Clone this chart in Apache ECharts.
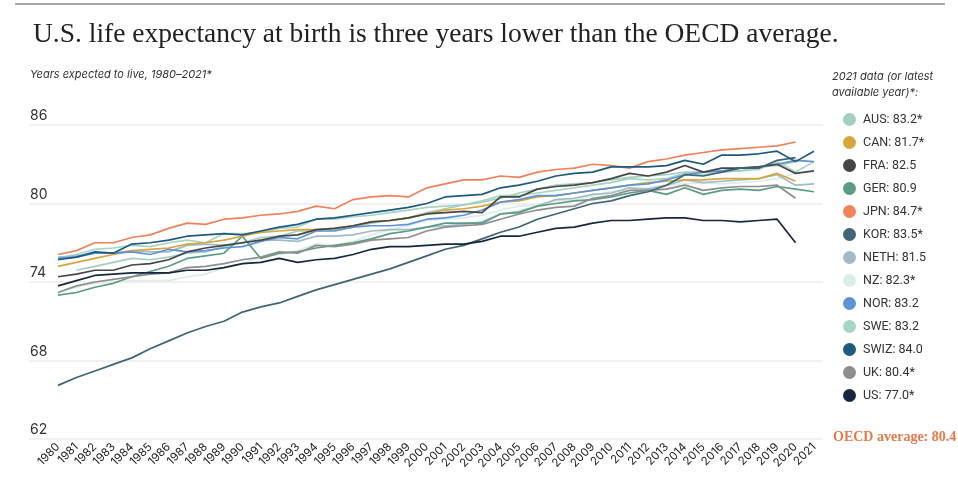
<!DOCTYPE html>
<html>
<head>
<meta charset="utf-8">
<script src="https://cdn.jsdelivr.net/npm/echarts@6/dist/echarts.min.js"></script>
<style>
html,body{margin:0;padding:0;background:#fff;}
#c{width:958px;height:479px;}
</style>
</head>
<body>
<div id="c"></div>
<script>
var years = ['1980','1981','1982','1983','1984','1985','1986','1987','1988','1989','1990','1991','1992','1993','1994','1995','1996','1997','1998','1999','2000','2001','2002','2003','2004','2005','2006','2007','2008','2009','2010','2011','2012','2013','2014','2015','2016','2017','2018','2019','2020','2021'];
var yTicks = [62, 68, 74, 80, 86];

var AUS  = [null, 74.9, 75.2, 75.5, 75.8, 75.7, 75.9, 76.2, 76.3, 76.7, 77.0, 77.4, 77.5, 77.9, 77.9, 78.0, 78.2, 78.5, 78.7, 78.9, 79.3, 79.6, 79.9, 80.1, 80.4, 80.8, 81.1, 81.4, 81.5, 81.6, 81.8, 82.0, 82.1, 82.2, 82.4, 82.4, 82.5, 82.5, 82.8, 82.9, 83.2, null];
var CAN  = [75.2, 75.5, 75.8, 76.1, 76.4, 76.5, 76.6, 76.9, 77.0, 77.2, 77.5, 77.8, 77.9, 78.0, 78.0, 78.1, 78.3, 78.6, 78.7, 78.9, 79.2, 79.5, 79.6, 79.8, 80.1, 80.2, 80.5, 80.6, 80.8, 81.0, 81.2, 81.4, 81.6, 81.7, 81.8, 81.8, 81.9, 81.9, 81.9, 82.3, 81.7, null];
var FRA  = [74.4, 74.6, 74.9, 74.9, 75.3, 75.4, 75.7, 76.3, 76.6, 76.8, 77.0, 77.2, 77.5, 77.6, 78.0, 78.1, 78.3, 78.6, 78.7, 78.9, 79.2, 79.3, 79.4, 79.3, 80.5, 80.5, 81.1, 81.3, 81.4, 81.6, 81.9, 82.3, 82.1, 82.4, 82.9, 82.4, 82.7, 82.7, 82.8, 83.0, 82.3, 82.5];
var GER  = [73.0, 73.2, 73.6, 73.9, 74.4, 74.8, 75.2, 75.8, 76.0, 76.2, 77.5, 75.8, 76.2, 76.3, 76.6, 76.8, 77.0, 77.3, 77.7, 77.9, 78.2, 78.5, 78.5, 78.5, 79.2, 79.3, 79.8, 80.0, 80.2, 80.3, 80.5, 80.8, 81.0, 80.7, 81.2, 80.7, 81.0, 81.1, 81.0, 81.3, 81.1, 80.9];
var JPN  = [76.1, 76.4, 77.0, 77.0, 77.4, 77.6, 78.1, 78.5, 78.4, 78.8, 78.9, 79.1, 79.2, 79.4, 79.8, 79.6, 80.3, 80.5, 80.6, 80.5, 81.2, 81.5, 81.8, 81.8, 82.1, 82.0, 82.4, 82.6, 82.7, 83.0, 82.9, 82.7, 83.2, 83.4, 83.7, 83.9, 84.1, 84.2, 84.3, 84.4, 84.7, null];
var KOR  = [66.1, 66.7, 67.2, 67.7, 68.2, 68.9, 69.5, 70.1, 70.6, 71.0, 71.7, 72.1, 72.4, 72.9, 73.4, 73.8, 74.2, 74.6, 75.0, 75.5, 76.0, 76.5, 76.8, 77.3, 77.8, 78.2, 78.8, 79.2, 79.6, 80.0, 80.2, 80.6, 80.9, 81.4, 82.2, 82.1, 82.4, 82.7, 82.7, 83.3, 83.5, null];
var NETH = [75.9, 76.0, 76.2, 76.2, 76.4, 76.3, 76.3, 76.8, 76.9, 76.8, 77.0, 77.2, 77.2, 77.1, 77.5, 77.5, 77.6, 77.9, 78.0, 78.0, 78.2, 78.3, 78.4, 78.6, 79.2, 79.4, 79.8, 80.3, 80.4, 80.7, 80.8, 81.2, 81.1, 81.4, 81.8, 81.6, 81.7, 81.8, 81.9, 82.2, 81.4, 81.5];
var NZ   = [73.2, 73.6, 73.9, 74.0, 74.1, 74.1, 74.1, 74.4, 74.6, 75.1, 75.4, 75.9, 76.1, 76.4, 76.9, 76.8, 77.1, 77.6, 78.0, 78.3, 78.7, 78.8, 78.9, 79.1, 79.5, 79.8, 79.9, 80.2, 80.3, 80.6, 80.9, 81.0, 81.2, 81.4, 81.5, 81.6, 81.5, 81.6, 81.7, 81.9, 82.3, null];
var NOR  = [75.8, 75.9, 76.2, 76.2, 76.3, 76.1, 76.5, 76.3, 76.4, 76.6, 76.7, 77.1, 77.4, 77.3, 77.9, 77.9, 78.2, 78.3, 78.3, 78.4, 78.8, 78.9, 79.1, 79.5, 80.1, 80.3, 80.6, 80.6, 80.8, 81.0, 81.2, 81.4, 81.5, 81.8, 82.2, 82.4, 82.5, 82.7, 82.8, 83.0, 83.3, 83.2];
var SWE  = [75.8, 76.1, 76.5, 76.6, 76.8, 76.7, 77.0, 77.2, 77.0, 77.7, 77.7, 77.8, 78.1, 78.2, 78.8, 78.8, 79.0, 79.1, 79.3, 79.5, 79.7, 79.8, 79.9, 80.2, 80.6, 80.6, 80.8, 81.0, 81.2, 81.4, 81.6, 81.9, 81.8, 81.9, 82.3, 82.2, 82.4, 82.5, 82.6, 83.2, 82.4, 83.2];
var SWIZ = [75.7, 75.9, 76.3, 76.2, 76.9, 77.0, 77.2, 77.5, 77.6, 77.7, 77.6, 77.9, 78.2, 78.4, 78.8, 78.9, 79.1, 79.3, 79.5, 79.7, 80.0, 80.5, 80.6, 80.7, 81.2, 81.4, 81.7, 82.1, 82.3, 82.4, 82.8, 82.8, 82.8, 82.9, 83.3, 83.0, 83.7, 83.7, 83.8, 84.0, 83.2, 84.0];
var UK   = [73.2, 73.7, 74.0, 74.2, 74.4, 74.6, 74.7, 75.1, 75.2, 75.4, 75.7, 75.9, 76.3, 76.2, 76.8, 76.7, 76.9, 77.2, 77.3, 77.4, 77.9, 78.2, 78.3, 78.4, 78.8, 79.2, 79.5, 79.7, 79.8, 80.4, 80.6, 81.0, 81.0, 81.1, 81.4, 81.0, 81.2, 81.3, 81.3, 81.4, 80.4, null];
var US   = [73.7, 74.1, 74.5, 74.6, 74.7, 74.7, 74.7, 74.9, 74.9, 75.1, 75.4, 75.5, 75.8, 75.5, 75.7, 75.8, 76.1, 76.5, 76.7, 76.7, 76.8, 76.9, 76.9, 77.1, 77.5, 77.5, 77.8, 78.1, 78.2, 78.5, 78.7, 78.7, 78.8, 78.9, 78.9, 78.7, 78.7, 78.6, 78.7, 78.8, 77.0, null];

var countries   = ['AUS','CAN','FRA','GER','JPN','KOR','NETH','NZ','NOR','SWE','SWIZ','UK','US'];
var latestLabel = ['83.2*','81.7*','82.5','80.9','84.7*','83.5*','81.5','82.3*','83.2','83.2','84.0','80.4*','77.0*'];

var dataByName = {AUS:AUS, CAN:CAN, FRA:FRA, GER:GER, JPN:JPN, KOR:KOR, NETH:NETH, NZ:NZ, NOR:NOR, SWE:SWE, SWIZ:SWIZ, UK:UK, US:US};
var colors = {AUS:'#a3cfc0', CAN:'#d8a73c', FRA:'#464646', GER:'#5a9d84', JPN:'#f0825c', KOR:'#3f6676', NETH:'#a0bccb', NZ:'#dcece6', NOR:'#5d94d4', SWE:'#a9d4c4', SWIZ:'#1c5a7f', UK:'#8e8e8e', US:'#16283f'};
var drawOrder = ['NZ','SWE','AUS','NETH','GER','UK','CAN','NOR','FRA','KOR','JPN','SWIZ','US'];

var chart = echarts.init(document.getElementById('c'));
var series = drawOrder.map(function(n){
  return {
    name: n, type: 'line', xAxisIndex: 0, yAxisIndex: 0,
    data: dataByName[n], showSymbol: false, symbol: 'none', silent: true,
    connectNulls: false, animation: false,
    lineStyle: {color: colors[n], width: 1.7},
    itemStyle: {color: colors[n]}
  };
});
series.push({type:'line', xAxisIndex:1, yAxisIndex:1, data:[], silent:true});

var labelMap = {};
countries.forEach(function(c,i){ labelMap[c] = c + ': ' + latestLabel[i]; });

chart.setOption({
  animation: false,
  backgroundColor: '#fff',
  title: {
    text: 'U.S. life expectancy at birth is three years lower than the OECD average.',
    left: 28, top: 16,
    textStyle: {fontFamily: 'Liberation Serif', fontSize: 27.5, fontWeight: 'normal', color: '#222'}
  },
  legend: {
    data: countries.map(function(c){ return {name: c, icon: 'circle'}; }),
    orient: 'vertical', left: 838, top: 108,
    itemWidth: 13, itemHeight: 13, itemGap: 10,
    selectedMode: false,
    formatter: function(n){ return labelMap[n]; },
    textStyle: {fontFamily: 'Roboto', fontSize: 12.5, color: '#333', padding: [0,0,0,2]}
  },
  grid: [
    {left: 58, width: 756, top: 125, height: 314},
    {left: 29, width: 794, top: 125, height: 314}
  ],
  xAxis: [
    {type: 'category', gridIndex: 0, data: years, boundaryGap: false,
     axisLine: {show: false}, axisTick: {show: false}, splitLine: {show: false},
     axisLabel: {interval: 0, rotate: 45, fontFamily: 'Inter', fontSize: 11.5, color: '#222', margin: 6}},
    {type: 'value', gridIndex: 1, show: false, min: 0, max: 1}
  ],
  yAxis: [
    {type: 'value', gridIndex: 0, min: 62, max: 86, interval: 6, show: false},
    {type: 'value', gridIndex: 1, min: yTicks[0], max: yTicks[yTicks.length-1], interval: 6,
     axisLine: {show: false}, axisTick: {show: false},
     splitLine: {show: true, lineStyle: {color: '#ededed', width: 1.5}},
     axisLabel: {inside: true, margin: 1, verticalAlign: 'bottom', padding: [0,0,2,0],
                 fontFamily: 'Inter', fontSize: 14, color: '#333'}}
  ],
  graphic: [
    {type: 'line', shape: {x1: 15, y1: 4, x2: 945, y2: 4}, style: {stroke: '#8a8a8a', lineWidth: 1.5}, silent: true},
    {type: 'text', left: 30, top: 69, style: {text: 'Years expected to live, 1980\u20132021*', fontFamily: 'Inter', fontStyle: 'italic', fontSize: 11, fill: '#333'}},
    {type: 'text', left: 832, top: 69, style: {text: '2021 data (or latest\navailable year)*:', fontFamily: 'Inter', fontStyle: 'italic', fontSize: 11, lineHeight: 16, fill: '#333'}},
    {type: 'text', left: 833, top: 430, style: {text: 'OECD average: 80.4', fontFamily: 'Liberation Serif', fontWeight: 'bold', fontSize: 14, fill: '#e8784a'}}
  ],
  series: series
});
</script>
</body>
</html>
